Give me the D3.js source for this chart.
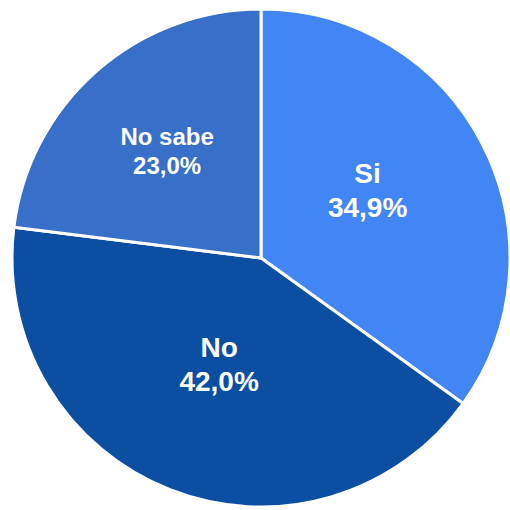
<!DOCTYPE html>
<html>
<head>
<meta charset="utf-8">
<script src="https://cdn.jsdelivr.net/npm/d3@7"></script>
<style>
  body { margin: 0; background: #fff; }
  svg { display: block; }
</style>
</head>
<body>
<div id="chart"></div>
<script>
// answers and shares (percent)
var categories = ['Si', 'No', 'No sabe'];
var values = [34.9, 42.0, 23.0];
var labels = ['34,9%', '42,0%', '23,0%'];

var colors = ['#4285f4', '#0b4ea2', '#386fc8'];
var fontSizes = [28, 28, 24];
var labelRadius = [0.49, 0.46, 0.57];
var labelShift = [[-2, -12], [0, 0], [0, 0]];

var w = 510, h = 510;
var cx = 261, cy = 258, r = 249;

var svg = d3.select('#chart')
  .append('svg')
    .attr('width', w)
    .attr('height', h);

var g = svg.append('g').attr('transform', 'translate(' + cx + ',' + cy + ')');

var pie = d3.pie().sort(null).value(function(d) { return d; });
var arcs = pie(values);

var arc = d3.arc().innerRadius(0).outerRadius(r);

g.selectAll('path')
  .data(arcs)
  .enter().append('path')
    .attr('d', arc)
    .attr('fill', function(d, i) { return colors[i]; })
    .attr('stroke', '#fff')
    .attr('stroke-width', 3)
    .attr('stroke-linejoin', 'round');

var lbl = g.selectAll('text')
  .data(arcs)
  .enter().append('text')
    .attr('transform', function(d, i) {
      var a = (d.startAngle + d.endAngle) / 2;
      var rr = r * labelRadius[i];
      var x = Math.sin(a) * rr + labelShift[i][0];
      var y = -Math.cos(a) * rr + labelShift[i][1];
      return 'translate(' + x + ',' + y + ')';
    })
    .attr('text-anchor', 'middle')
    .attr('fill', '#fff')
    .attr('font-family', 'Liberation Sans, Arial, sans-serif')
    .attr('font-weight', 'bold')
    .attr('font-size', function(d, i) { return fontSizes[i]; });

// two lines: category, then percentage; block centred on the anchor
lbl.append('tspan')
  .attr('x', 0)
  .attr('dy', '-0.27em')
  .text(function(d, i) { return categories[i]; });

lbl.append('tspan')
  .attr('x', 0)
  .attr('dy', '1.22em')
  .text(function(d, i) { return labels[i]; });
</script>
</body>
</html>
